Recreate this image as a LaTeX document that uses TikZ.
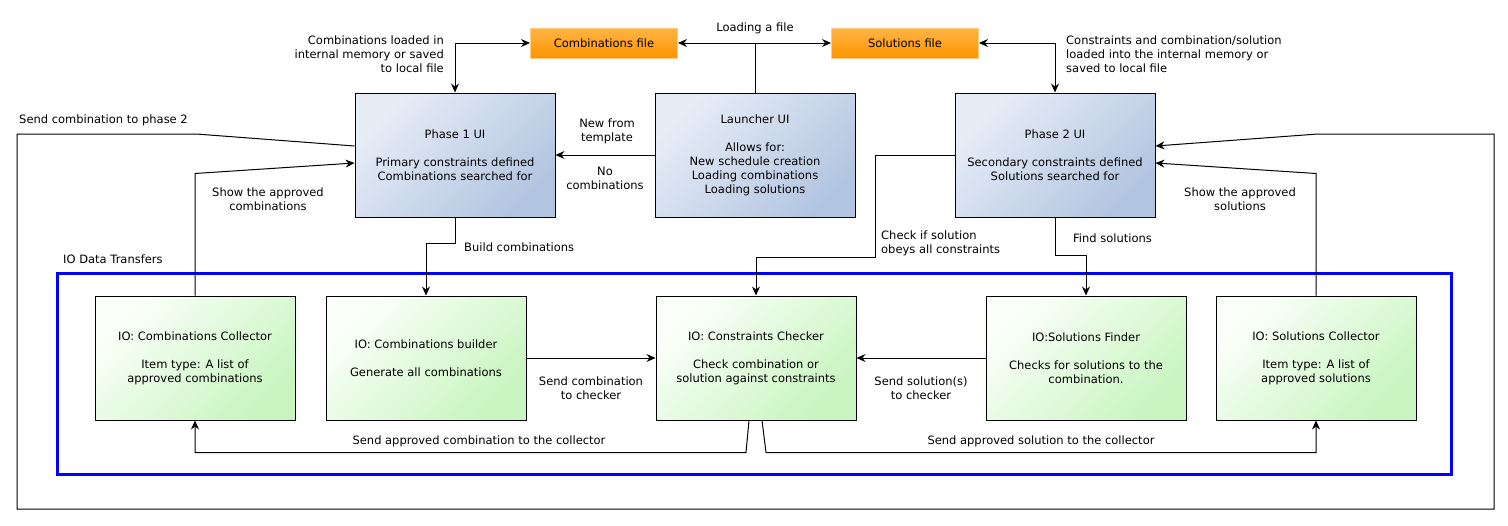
\documentclass[tikz,border=0pt]{standalone}
\usepackage{fontspec}
\setmainfont{DejaVu Sans}
\usetikzlibrary{calc}
\usetikzlibrary{arrows.meta}
\definecolor{uilight}{HTML}{E7EDF7}
\definecolor{uidark}{HTML}{B2C5E0}
\definecolor{iolight}{HTML}{FBFFFA}
\definecolor{iodark}{HTML}{C8F5BF}
\definecolor{filetop}{HTML}{FFB445}
\definecolor{filebot}{HTML}{FF9500}
\definecolor{fileedge}{HTML}{FFCC80}
\newcommand\diafont[0]{\fontsize{11.5}{14}\selectfont}
\tikzset{
  every node/.style={font=\diafont, inner sep=0pt},
  uibox/.style={draw, line width=1pt, minimum width=200pt, minimum height=124pt, align=center,
    top color=uilight, bottom color=uidark, shading angle=45},
  iobox/.style={draw, line width=1pt, minimum width=200pt, minimum height=124pt, align=center,
    top color=iolight, bottom color=iodark, shading angle=45},
  filebox/.style={draw=fileedge, line width=1pt, minimum width=147pt, minimum height=30pt,
    top color=filetop, bottom color=filebot},
  lbl/.style={align=center},
  arr/.style={line width=1pt, -{Stealth[length=9pt, width=8pt, inset=3pt]}},
  arrboth/.style={line width=1pt, {Stealth[length=9pt, width=8pt, inset=3pt]}-{Stealth[length=9pt, width=8pt, inset=3pt]}},
}

\begin{document}
\begin{tikzpicture}[x=1pt, y=-1pt]
\useasboundingbox (0,0) rectangle (1508,525);
% top row
\node[filebox] (CF) at (604,43) {Combinations file};
\node[filebox] (SF) at (905,43) {Solutions file};
\node[uibox] (P1) at (455,155) {Phase 1 UI\\[14pt]Primary constraints defined\\Combinations searched for};
\node[uibox] (L) at (755,155) {Launcher UI\\[14pt]Allows for:\\New schedule creation\\Loading combinations\\Loading solutions};
\node[uibox] (P2) at (1055,155) {Phase 2 UI\\[14pt]Secondary constraints defined\\Solutions searched for};
% io row
\node[iobox] (CC) at (195,358) {IO: Combinations Collector\\[14pt]Item type: A list of\\approved combinations};
\node[iobox] (CB) at (426,358) {IO: Combinations builder\\[14pt]Generate all combinations};
\node[iobox] (CK) at (756,358) {IO: Constraints Checker\\[14pt]Check combination or\\solution against constraints};
\node[iobox] (SD) at (1086,358) {IO:Solutions Finder\\[14pt]Checks for solutions to the\\combination.};
\node[iobox] (SC) at (1316,358) {IO: Solutions Collector\\[14pt]Item type: A list of\\approved solutions};
\draw[blue, line width=3pt] (57,273) rectangle (1451,474);
\node[anchor=west] at (63,259) {IO Data Transfers};
% file links
\draw[arrboth] (CF) -- (SF);
\draw[line width=1pt] (L.north) -- (L.north |- CF.east) node[above=9pt]{Loading a file};
\draw[arrboth] (CF.west) -| (P1.north);
\node[anchor=east, align=right] at (444,54) {Combinations loaded in\\internal memory or saved\\to local file};
\draw[arrboth] (SF.east) -| (P2.north);
\node[anchor=west, align=left] at (1066,54) {Constraints and combination/solution\\loaded into the internal memory or\\saved to local file};
% ui links
\draw[arr] (L) -- (P1);
\node[lbl] at (607,131) {New from\\template};
\node[lbl] at (605,178) {No\\combinations};
\draw[arr] (P1.south) -- ++(0,26) -| (CB.north);
\node[anchor=west] at (464,247) {Build combinations};
\draw[arr] (P2.west) -| ++(-79,102) -| (CK.north);
\node[anchor=west, align=left] at (881,243) {Check if solution\\obeys all constraints};
\draw[arr] (P2.south) -- ++(0,38) -| (SD.north);
\node[anchor=west] at (1073,238) {Find solutions};
% io links
\draw[arr] (CB) -- (CK);
\node[lbl] at (591,388) {Send combination\\to checker};
\draw[arr] (SD) -- (CK);
\node[lbl] at (921,388) {Send solution(s)\\to checker};
\draw[arr] ($(CK.south)+(-7,0)$) -- ++(-3,32) -| (CC.south);
\node[lbl] at (479,441) {Send approved combination to the collector};
\draw[arr] ($(CK.south)+(6,0)$) -- ++(4,32) -| (SC.south);
\node[lbl] at (1041,441) {Send approved solution to the collector};
% back to the ui
\draw[arr] (CC.north) -- ++(0,-122) -- ($(P1.west)+(0,8)$);
\node[lbl] at (268,199) {Show the approved\\combinations};
\draw[arr] (SC.north) -- ++(0,-122) -- ($(P2.east)+(0,8)$);
\node[lbl] at (1240,199) {Show the approved\\solutions};
\draw[arr] ($(P1.west)+(0,-9)$) -- (196,134) -- (17,134) -- (17,509) -- (1494,509)
  -- (1494,134) -- (1318,134) -- ($(P2.east)+(0,-9)$);
\node[anchor=west] at (19,120) {Send combination to phase 2};
\end{tikzpicture}
\end{document}
